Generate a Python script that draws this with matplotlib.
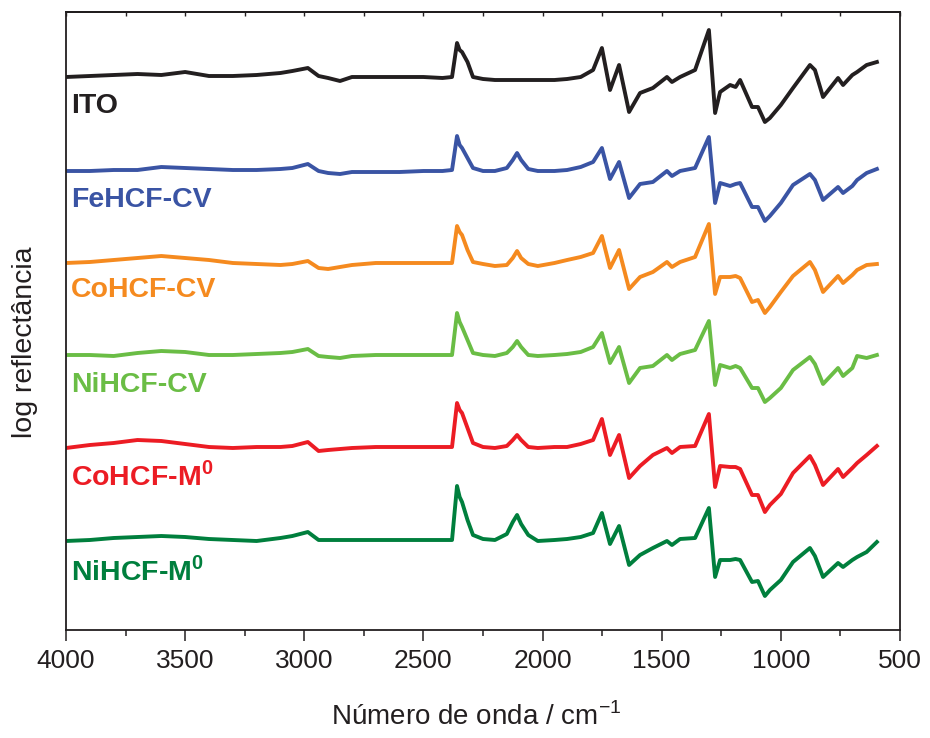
import matplotlib
matplotlib.use("Agg")
import matplotlib.pyplot as plt
import numpy as np
from matplotlib.ticker import MultipleLocator

wavenumber = [4000, 3900, 3800, 3700, 3600, 3500, 3400, 3300, 3200, 3100,
              3050, 2985, 2940, 2900, 2850, 2800, 2700, 2600, 2500, 2420,
              2380, 2359, 2348, 2338, 2315, 2292, 2250, 2200, 2150, 2125,
              2107, 2090, 2060, 2020, 1950, 1897, 1840, 1788, 1751, 1717,
              1679, 1637, 1591, 1537, 1478, 1457, 1423, 1360, 1302, 1276,
              1255, 1213, 1190, 1171, 1121, 1096, 1067, 1046, 1000, 949,
              878, 857, 823, 760, 739, 700, 680, 640, 597]

# log reflectance (beliebige Einheiten, bereits versetzt gestapelt)
ito = [553, 554, 555, 556, 555, 558, 554, 554, 555, 557,
       559, 562, 554, 552, 549, 553, 553, 553, 553, 552,
       553, 587, 580, 578, 568, 553, 551, 550, 550, 550,
       550, 550, 550, 550, 550, 551, 553, 560, 582, 540,
       565, 518, 537, 542, 553, 548, 553, 560, 600, 517,
       538, 545, 543, 550, 523, 523, 508, 512, 525, 542,
       565, 560, 533, 552, 545, 555, 558, 565, 568]
fehcf_cv = [459, 459, 460, 460, 463, 462, 461, 460, 460, 461,
            462, 466, 459, 457, 456, 458, 458, 458, 459, 459,
            460, 494, 485, 482, 472, 462, 459, 459, 462, 470,
            477, 470, 461, 459, 459, 460, 463, 468, 482, 451,
            468, 432, 446, 448, 459, 454, 459, 462, 493, 427,
            447, 444, 446, 447, 423, 423, 409, 414, 427, 445,
            456, 450, 430, 443, 437, 444, 450, 457, 461]
cohcf_cv = [367, 368, 370, 372, 374, 372, 370, 367, 366, 365,
            366, 369, 362, 361, 363, 365, 367, 367, 367, 367,
            367, 404, 398, 395, 380, 368, 366, 364, 365, 372,
            379, 372, 366, 364, 367, 370, 373, 377, 394, 362,
            380, 341, 353, 358, 368, 363, 368, 373, 406, 336,
            353, 353, 354, 352, 328, 330, 317, 323, 338, 354,
            368, 360, 338, 354, 347, 355, 360, 365, 366]
nihcf_cv = [275, 275, 274, 277, 279, 278, 275, 275, 276, 277,
            278, 281, 274, 273, 272, 274, 275, 275, 275, 275,
            275, 317, 308, 303, 290, 277, 275, 274, 277, 283,
            289, 283, 275, 274, 275, 276, 278, 283, 297, 267,
            283, 247, 262, 264, 275, 270, 276, 280, 309, 245,
            265, 262, 264, 262, 242, 242, 228, 232, 242, 260,
            273, 266, 246, 262, 254, 262, 274, 272, 275]
cohcf_m0 = [182, 185, 187, 190, 189, 186, 183, 182, 183, 183,
            184, 188, 179, 180, 181, 182, 183, 183, 183, 183,
            183, 227, 220, 217, 202, 187, 183, 182, 184, 190,
            195, 190, 183, 182, 183, 183, 186, 190, 211, 175,
            195, 152, 164, 175, 182, 177, 183, 184, 216, 143,
            164, 163, 163, 161, 135, 135, 118, 125, 136, 157,
            174, 165, 145, 161, 153, 162, 167, 175, 184]
nihcf_m0 = [89, 90, 92, 93, 94, 93, 91, 90, 89, 92,
            94, 98, 90, 90, 90, 90, 90, 90, 90, 90,
            90, 144, 133, 128, 110, 95, 91, 90, 96, 108,
            115, 106, 95, 89, 90, 91, 93, 97, 117, 86,
            104, 65, 75, 82, 89, 85, 91, 92, 122, 53,
            70, 70, 71, 70, 48, 49, 34, 40, 50, 68,
            82, 74, 53, 67, 63, 70, 73, 78, 88]

names = ["ITO", "FeHCF-CV", "CoHCF-CV", "NiHCF-CV",
         r"CoHCF-M$^{\mathbf{0}}$", r"NiHCF-M$^{\mathbf{0}}$"]
label_y = [517, 423, 333, 238, 145, 50]
colors = ["#231f20", "#3a54a4", "#f58a1f", "#6abd45", "#ec1c24", "#007f3d"]
spectra = [ito, fehcf_cv, cohcf_cv, nihcf_cv, cohcf_m0, nihcf_m0]

plt.rcParams["font.family"] = ["Liberation Sans", "DejaVu Sans"]
plt.rcParams["mathtext.fontset"] = "custom"
plt.rcParams["mathtext.rm"] = "Liberation Sans"
plt.rcParams["mathtext.bf"] = "Liberation Sans:bold"

fig = plt.figure(figsize=(9.3, 7.38), dpi=100)
ax = fig.add_axes([66 / 930, 108 / 738, 834 / 930, 618 / 738])

wn = np.array(wavenumber)
for spec, name, ly, col in zip(spectra, names, label_y, colors):
    ax.plot(wn, spec, color=col, lw=2.8, solid_joinstyle="round")
    ax.text(3978, ly, name, color=col, fontsize=20.5, fontweight="bold",
            va="baseline", ha="left")

ax.set_xlim(4000, 500)
ax.set_ylim(0, 618)
ax.set_yticks([])
ax.xaxis.set_major_locator(MultipleLocator(500))
ax.xaxis.set_minor_locator(MultipleLocator(250))
ax.tick_params(axis="x", which="major", direction="out", length=8, width=1.1,
               labelsize=19, pad=6, colors="#231f20")
ax.tick_params(axis="x", which="minor", direction="out", length=4, width=1.1,
               colors="#231f20")

# obere Achse: kurze Ticks nach innen, ohne Beschriftung
top = ax.secondary_xaxis("top")
top.xaxis.set_major_locator(MultipleLocator(250))
top.tick_params(direction="in", length=3, width=1.0, labeltop=False, colors="#231f20")

for sp in ax.spines.values():
    sp.set_linewidth(1.3)
    sp.set_color("#231f20")
top.spines["top"].set_linewidth(1.3)

ax.set_xlabel("Número de onda / cm$^{-1}$", fontsize=20, color="#231f20")
ax.set_ylabel("log reflectância", fontsize=20.5, color="#231f20")
ax.xaxis.set_label_coords(0.492, -0.118)
ax.yaxis.set_label_coords(-0.033, 0.466)

fig.savefig("out.png", dpi=100)
